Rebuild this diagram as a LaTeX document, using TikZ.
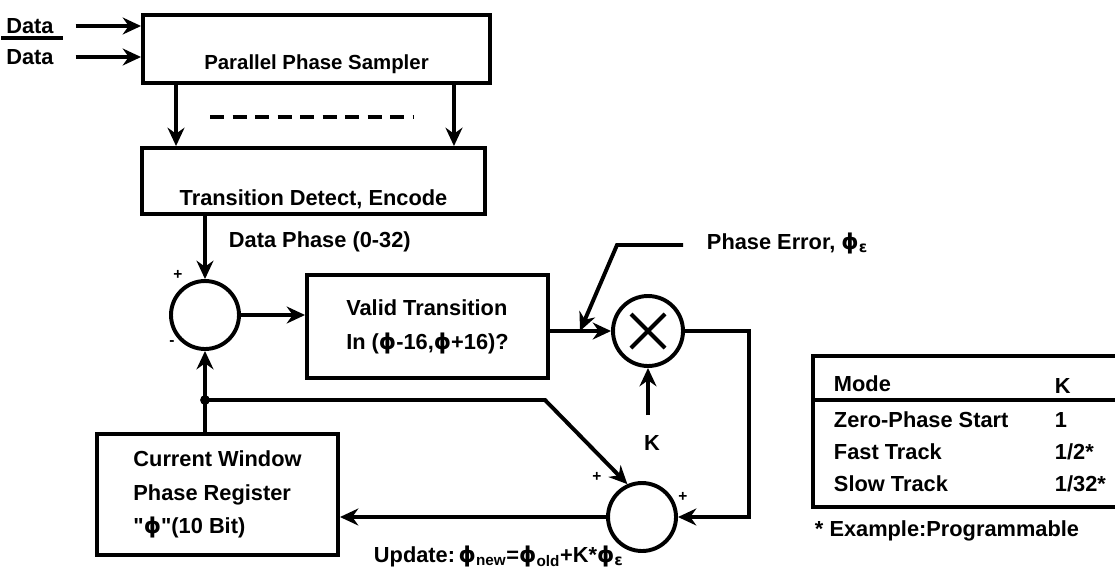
\documentclass[tikz,border=0pt]{standalone}
\usepackage{fontspec}
\setmainfont{Liberation Sans}
\newfontfamily\greekfont{DejaVu Sans}
\usetikzlibrary{arrows.meta}
\newcommand{\phig}{{\greekfont ϕ}}
\newcommand{\epsg}{{\greekfont ε}}
\begin{document}
\begin{tikzpicture}[x=0.025cm,y=-0.025cm,line width=2.8pt,
    every node/.style={font=\bfseries\fontsize{15.5}{24}\selectfont},
    arr/.style={-{Stealth[length=13pt,width=12pt]}},
    box/.style 2 args={draw,minimum width=#1*0.025cm,minimum height=#2*0.025cm,inner sep=0pt},
    summer/.style={draw,circle,minimum size=#1*0.025cm,inner sep=0pt},
    lbl/.style={inner sep=0pt},
    sign/.style={inner sep=0pt,font=\bfseries\fontsize{11}{13}\selectfont}]
    \useasboundingbox (0,0) rectangle (1115,581);
    \clip (0,0) rectangle (1115,581);
    % inputs and sampler
    \node [lbl] (dataa) at (30,26) {Data};
    \node [lbl] (datab) at (30,57) {Data};
    \draw ([shift={(-3,-9)}]datab.north west) -- ([shift={(7,-9)}]datab.north east);
    \node [box={347}{68},text height=1.3625cm,text depth=0.3375cm,font=\bfseries\fontsize{14.5}{24}\selectfont] (sampler) at (316.5,49) {Parallel Phase Sampler};
    \draw [arr] ([shift={(20,0)}]dataa.east) -- (dataa -| sampler.west);
    \draw [arr] ([shift={(20,0)}]datab.east) -- (datab -| sampler.west);
    \node [box={343}{66},text height=1.4375cm,text depth=0.2125cm] (trans) at (313.5,181) {Transition Detect, Encode};
    \draw [arr] ([shift={(35,0)}]sampler.south west) -- ([shift={(36,0)}]trans.north west);
    \draw [arr] ([shift={(-38,0)}]sampler.south east) -- ([shift={(-33,0)}]trans.north east);
    \draw [dash pattern=on 10pt off 6pt] (210,117) -- (413,117);
    % phase comparison
    \node [summer=68] (sum1) at (205,315) {};
    \node [sign] (plusa) at (178,275) {+};
    \node [sign] (minusa) at (172,343) {-};
    \draw [arr] (sum1.north |- trans.south) -- (sum1.north);
    \node [lbl,anchor=west] (dphase) at (227,242) {Data Phase (0-32)};
    \node [box={241}{103},align=left] (valid) at (427.5,326.5) {Valid Transition\\In (\phig-16,\phig+16)?};
    \draw [arr] (sum1.east) -- (sum1.east -| valid.west);
    \node [summer=70] (mult) at (648,331) {};
    \draw ([shift={(-17,-17)}]mult.center) -- ([shift={(17,17)}]mult.center);
    \draw ([shift={(-17,17)}]mult.center) -- ([shift={(17,-17)}]mult.center);
    \draw [arr] (valid.east |- mult.west) -- (mult.west);
    \node [lbl,anchor=west] (perr) at (705,243) {Phase Error, \phig\textsubscript{\epsg}};
    \draw [arr] ([shift={(-22,2)}]perr.west) -- ++(-66,0) -- ([shift={(-31,0)}]mult.west);
    \node [lbl] (kin) at (652,443) {K};
    \draw [arr,shorten <=0.46cm] (mult.south |- kin.north) -- (mult.south);
    % update loop
    \node [summer=68] (sum2) at (642,517) {};
    \node [sign] (plusb) at (597,477) {+};
    \node [sign] (plusc) at (683,497) {+};
    \draw [arr] (mult.east) -- ++(64,0) |- (sum2.east);
    \node [box={241}{121},align=left] (cw) at (217.5,494.5) {Current Window\\Phase Register\\\textquotedbl\phig\textquotedbl(10 Bit)};
    \draw [arr] (sum2.west) -- (sum2.west -| cw.east);
    \coordinate (tap) at (205,400);
    \draw [arr] (sum1.south |- cw.north) -- (sum1.south);
    \fill (tap) circle (3.5pt);
    \draw [arr] (tap) -- ++(340,0) -- (sum2.114);
    \node [lbl,anchor=west] (update) at (372,556) {Update:\,\phig\textsubscript{new}=\phig\textsubscript{old}+K*\phig\textsubscript{\epsg}};
    % mode table
    \draw (813,356) rectangle (1135,507);
    \draw (813,400) -- (1135,400);
    \node [lbl,anchor=west] (modehd) at (832,384) {Mode};
    \node [lbl,anchor=west] (khd) at (1053,386) {K};
    \node [lbl,anchor=west] (zeromode) at (832,420) {Zero-Phase Start};
    \node [lbl,anchor=west] (zerok) at (1053,420) {1};
    \node [lbl,anchor=west] (fastmode) at (832,452) {Fast Track};
    \node [lbl,anchor=west] (fastk) at (1053,452) {1/2*};
    \node [lbl,anchor=west] (slowmode) at (832,484) {Slow Track};
    \node [lbl,anchor=west] (slowk) at (1053,484) {1/32*};
    \node [lbl,anchor=west] (fnote) at (813,531) {* Example:Programmable};
\end{tikzpicture}
\end{document}
